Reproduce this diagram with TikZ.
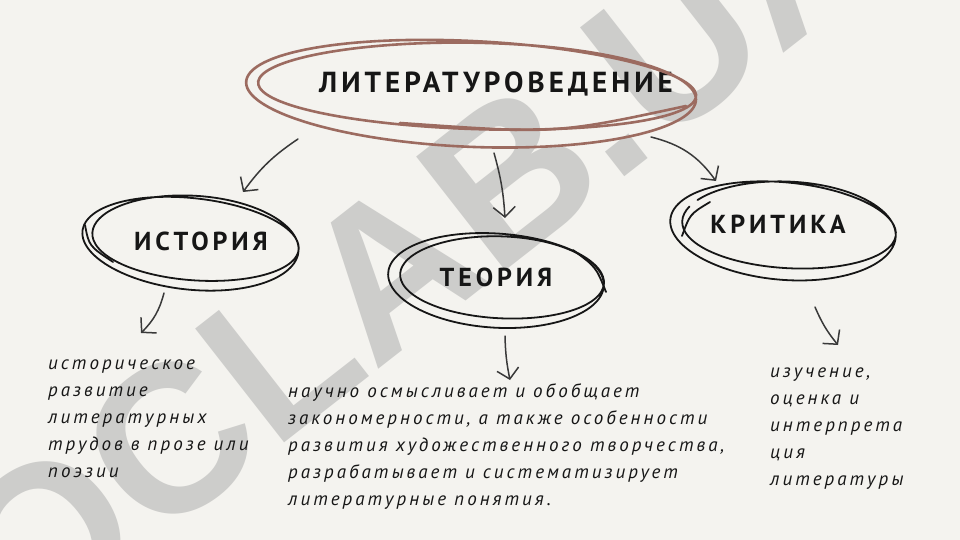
\documentclass[tikz,border=0pt]{standalone}
\usepackage{fontspec}
\setmainfont{PT Sans}
\newfontfamily\TitleFont{PT Sans}[LetterSpace=14]
\newfontfamily\HeadFont{PT Sans}[LetterSpace=15]
\newfontfamily\HandFont{PT Sans}[LetterSpace=16]
\newfontfamily\MarkFont{Liberation Sans}
\usepackage{xcolor}
\definecolor{ColBg}{RGB}{244,243,239}
\definecolor{ColLoop}{RGB}{156,107,96}
\definecolor{ColInk}{RGB}{22,22,22}
\definecolor{ColMark}{RGB}{205,205,203}
\usepackage{tikz}
\usetikzlibrary{arrows.meta}
\tikzstyle{Title}=[font=\TitleFont\bfseries\fontsize{29}{29}\selectfont,
text=ColInk,inner sep=0pt]
\tikzstyle{Head}=[font=\HeadFont\bfseries\fontsize{26}{26}\selectfont,
text=ColInk,inner sep=0pt]
\tikzstyle{Body}=[font=\HandFont\itshape\fontsize{19}{26.8}\selectfont,
text=ColInk,align=left,anchor=base west,inner sep=0pt]
\tikzstyle{Loop}=[draw=ColLoop,line width=2.6pt,line cap=round]
\tikzstyle{Ring}=[draw=ColInk,line width=1.8pt,line cap=round]
\tikzstyle{Arrow}=[draw=ColInk!85,line width=1.5pt,line cap=round,
-{Straight Barb[length=10pt,width=22pt,line width=1.5pt]}]
\tikzstyle{Mark}=[font=\MarkFont\bfseries\fontsize{210}{210}\selectfont,
text=ColMark,inner sep=0pt]

\begin{document}
\begin{tikzpicture}[x=1pt,y=-1pt]
        \fill[ColBg](0,0)rectangle(960,540);
        \begin{scope}
            \clip(0,0)rectangle(960,540);
            \node[Mark,rotate=38](mark)at(358,294){DOCLAB.UA};
        \end{scope}
        % heads
        \node[Title](lit)at(496,84){ЛИТЕРАТУРОВЕДЕНИЕ};
        \node[Head](hist)at(201,241){ИСТОРИЯ};
        \node[Head](theo)at(496,277){ТЕОРИЯ};
        \node[Head](crit)at(778,224){КРИТИКА};
        % scribbled rings
        \draw[Loop,shift={([shift={(-22,6)}]lit.center)},rotate=-2]
            plot[domain=-40:700,samples=160,smooth]
            ({(222+12*sin(\x/2))*cos(\x)+6*sin(\x/2)},{(48+9*sin(\x/2+40))*sin(\x)});
        \draw[Loop]([shift={(-96,39)}]lit.center)
            ..controls([shift={(60,50)}]lit.center)..([shift={(190,22)}]lit.center);
        \draw[Ring,shift={([shift={(-8,0)}]hist.center)},rotate=-5]
            plot[domain=-160:560,samples=140,smooth]
            ({(106+5*sin(\x/2))*cos(\x)},{(44+5*sin(\x/2+60))*sin(\x)});
        \draw[Ring]([shift={(-88,21)}]hist.center)
            ..controls([shift={(-112,5)}]hist.center)..([shift={(-116,-16)}]hist.center);
        \draw[Ring,shift={([shift={(3,2)}]theo.center)},rotate=-3]
            plot[domain=-60:660,samples=140,smooth]
            ({(105+6*sin(\x/2))*cos(\x)},{(44+5*sin(\x/2+30))*sin(\x)});
        \draw[Ring]([shift={(77,-27)}]theo.center)
            ..controls([shift={(100,-10)}]theo.center)..([shift={(110,15)}]theo.center);
        \draw[Ring,shift={([shift={(8,4)}]crit.center)},rotate=-4]
            plot[domain=-150:560,samples=140,smooth]
            ({(110+6*sin(\x/2))*cos(\x)},{(46+6*sin(\x/2+50))*sin(\x)});
        \draw[Ring]([shift={(-68,-22)}]crit.center)
            ..controls([shift={(-88,-10)}]crit.center)..([shift={(-96,12)}]crit.center);
        % texts
        \node[Body](histtext)at(48,477){историческое\\развитие\\литературных\\трудов в прозе или\\поэзии};
        \node[Body](theotext)at(288,505){научно осмысливает и обобщает\\закономерности, а также особенности\\развития художественного творчества,\\разрабатывает и систематизирует\\литературные понятия.};
        \node[Body](crittext)at(770,485){изучение,\\оценка и\\интерпрета\\ция\\литературы};
        % arrows
        \draw[Arrow]([shift={(-198,55)}]lit.center)to[bend right=10]
            ([shift={(42,-49)}]hist.center);
        \draw[Arrow]([shift={(-2,69)}]lit.center)to[bend left=6]
            ([shift={(9,-59)}]theo.center);
        \draw[Arrow]([shift={(155,53)}]lit.center)to[bend left=20]
            ([shift={(-62,-43)}]crit.center);
        \draw[Arrow]([shift={(-37,52)}]hist.center)to[bend left=15]
            ([shift={(93,-144)}]histtext.base west);
        \draw[Arrow]([shift={(9,59)}]theo.center)to[bend right=5]
            ([shift={(222,-125)}]theotext.base west);
        \draw[Arrow]([shift={(37,83)}]crit.center)to[bend right=8]
            ([shift={(68,-140)}]crittext.base west);
    \end{tikzpicture}
\end{document}
